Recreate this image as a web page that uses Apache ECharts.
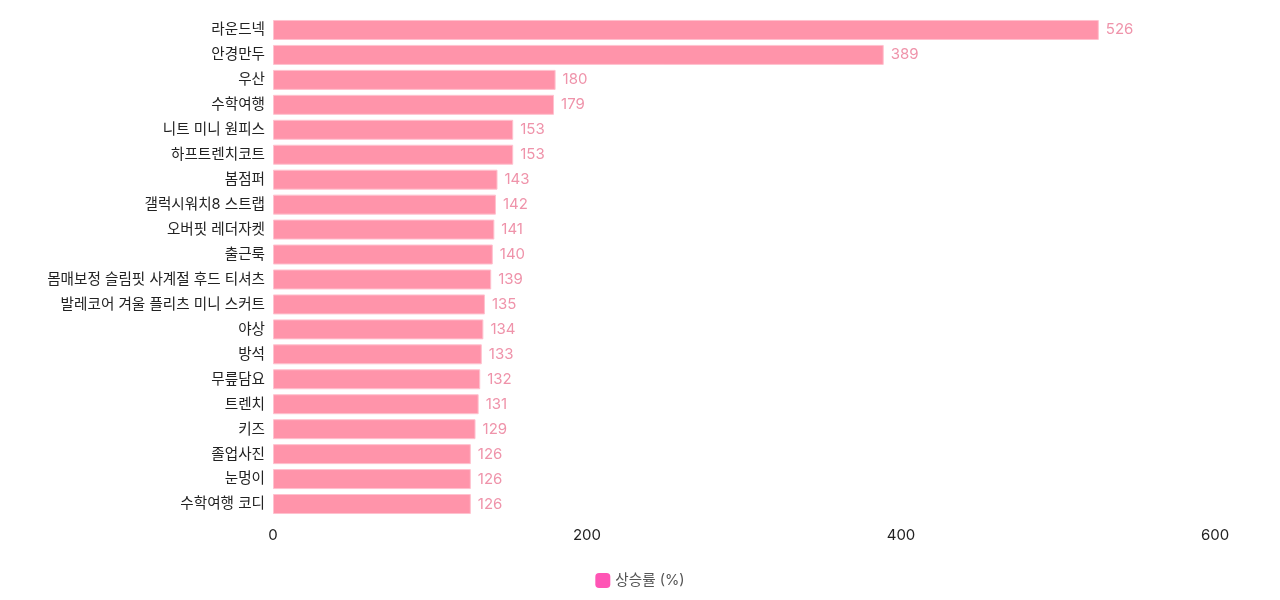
<!DOCTYPE html>
<html><head><meta charset="utf-8">
<script src="https://cdn.jsdelivr.net/npm/echarts@6/dist/echarts.min.js"></script>
<style>html,body{margin:0;padding:0;background:#fff}#c{width:1280px;height:600px}</style>
</head><body><div id="c"></div>
<script>
const categories = ["라운드넥","안경만두","우산","수학여행","니트 미니 원피스","하프트렌치코트","봄점퍼","갤럭시워치8 스트랩","오버핏 레더자켓","출근룩","몸매보정 슬림핏 사계절 후드 티셔츠","발레코어 겨울 플리츠 미니 스커트","야상","방석","무릎담요","트렌치","키즈","졸업사진","눈멍이","수학여행 코디"];
const values = [526,389,180,179,153,153,143,142,141,140,139,135,134,133,132,131,129,126,126,126];
const xTicks = [0,200,400,600];
const seriesName = "상승률 (%)";
const font = "Inter, 'Noto Sans CJK KR', sans-serif";
const chart = echarts.init(document.getElementById('c'));
chart.setOption({
  animation:false,
  grid:{left:273,right:65,top:17.5,bottom:83.5,containLabel:false},
  legend:{bottom:7,left:'center',itemWidth:15,itemHeight:15,itemGap:4,icon:'roundRect',
    textStyle:{fontFamily:font,fontSize:14.6,color:'#555'},
    data:[{name:seriesName,itemStyle:{color:'#ff55b5',borderWidth:0}}]},
  xAxis:{type:'value',min:0,max:600,interval:200,
    axisLine:{show:false},axisTick:{show:false},splitLine:{show:false},
    axisLabel:{fontFamily:font,fontSize:15,color:'#222',margin:11}},
  yAxis:{type:'category',data:categories,inverse:true,
    axisLine:{show:false},axisTick:{show:false},
    axisLabel:{fontFamily:font,fontSize:14.6,color:'#222',margin:8}},
  series:[{name:seriesName,type:'bar',data:values,barWidth:20,
    itemStyle:{color:'#ff94aa',borderColor:'#ffc2cf',borderWidth:1},
    label:{show:true,position:'right',distance:7,fontFamily:font,fontSize:15,color:'#ef93aa'}}]
});
</script></body></html>
